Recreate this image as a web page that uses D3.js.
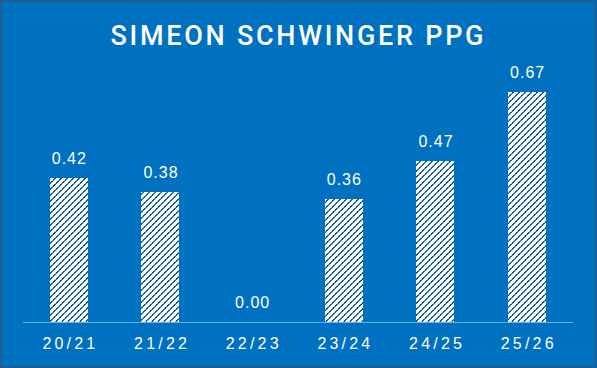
<!DOCTYPE html>
<html>
<head>
<meta charset="utf-8">
<script src="https://cdn.jsdelivr.net/npm/d3@7"></script>
<style>
  html, body { margin: 0; padding: 0; background: #0070C0; }
  svg { display: block; }
</style>
</head>
<body>
<div id="chart"></div>
<script>
// data
const seasons = ["20/21", "21/22", "22/23", "23/24", "24/25", "25/26"];
const ppg = [0.42, 0.38, 0.00, 0.36, 0.47, 0.67];
const title = "SIMEON SCHWINGER PPG";

const width = 597;
const height = 368;
const baseline = 322;

const svg = d3.select("#chart").append("svg")
    .attr("width", width)
    .attr("height", height)
    .attr("shape-rendering", "crispEdges");

// hatch pattern: pixel staircase "/" lines with small breaks
const defs = svg.append("defs");
const tile = 6;
const pat = defs.append("pattern")
    .attr("id", "hatch")
    .attr("patternUnits", "userSpaceOnUse")
    .attr("width", tile)
    .attr("height", tile);
pat.append("rect").attr("width", tile).attr("height", tile).attr("fill", "#ffffff");
const cells = [];
for (let r = 0; r < tile; r++) {
    for (let c = 0; c < tile; c++) {
        const k = (c + r) % tile;
        if (k === 5 || k === 4) cells.push([c, r, (k === 4 && r % 3 === 0) ? 1 : 0]);
    }
}
pat.selectAll("rect.px")
    .data(cells)
    .enter()
    .append("rect")
    .attr("class", "px")
    .attr("x", d => d[0])
    .attr("y", d => d[1])
    .attr("width", 1)
    .attr("height", 1)
    .attr("fill", d => d[2] ? "#6fa6cf" : "#155d92");

// background + border
svg.append("rect")
    .attr("x", 1).attr("y", 1)
    .attr("width", width - 2).attr("height", height - 2)
    .attr("fill", "#0070C0")
    .attr("stroke", "#1f5e8e")
    .attr("stroke-width", 2);

// scales
const x = d3.scaleBand()
    .domain(seasons)
    .range([23, 573])
    .paddingInner(0.585)
    .paddingOuter(0.2925);

const y = d3.scaleLinear()
    .domain([0, 1])
    .range([baseline, baseline - 343]);

// bars
svg.append("g")
    .selectAll("rect")
    .data(ppg)
    .enter()
    .append("rect")
    .attr("x", (d, i) => Math.round(x(seasons[i])))
    .attr("y", d => Math.round(y(d)))
    .attr("width", Math.round(x.bandwidth()))
    .attr("height", d => Math.round(y(0)) - Math.round(y(d)))
    .attr("fill", "url(#hatch)");

// value labels
svg.append("g")
    .selectAll("text")
    .data(ppg)
    .enter()
    .append("text")
    .attr("x", (d, i) => x(seasons[i]) + x.bandwidth() / 2)
    .attr("y", d => y(d) - 14)
    .attr("dx", 0.5)
    .attr("text-anchor", "middle")
    .style("font-family", "'Liberation Sans', Arial, sans-serif")
    .style("font-size", "16px")
    .style("letter-spacing", "1px")
    .style("fill", "#ffffff")
    .text(d => d.toFixed(2));

// x axis line
svg.append("line")
    .attr("x1", 23).attr("x2", 573)
    .attr("y1", baseline).attr("y2", baseline)
    .attr("stroke", "#5fb3e6")
    .attr("stroke-width", 1);

// category labels
const xAxis = d3.axisBottom(x).tickSize(0).tickPadding(0);
const axisG = svg.append("g")
    .attr("transform", `translate(0,${baseline})`)
    .call(xAxis);
axisG.select(".domain").remove();
axisG.selectAll("text")
    .attr("y", 27)
    .attr("dy", 0)
    .attr("dx", 1.6)
    .style("font-family", "'Liberation Sans', Arial, sans-serif")
    .style("font-size", "16px")
    .style("letter-spacing", "3.2px")
    .style("fill", "#ffffff");

// title
svg.append("text")
    .attr("x", 297)
    .attr("y", 45)
    .attr("text-anchor", "middle")
    .attr("textLength", 373)
    .attr("lengthAdjust", "spacing")
    .style("font-family", "Roboto, 'Liberation Sans', sans-serif")
    .style("font-weight", "500")
    .style("font-size", "27px")
    .style("fill", "#ffffff")
    .text(title);
</script>
</body>
</html>
